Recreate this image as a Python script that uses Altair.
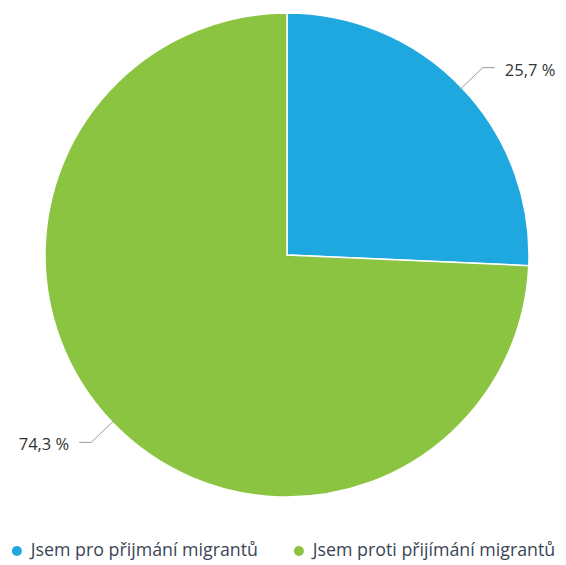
import altair as alt
import pandas as pd

categories = ["Jsem pro přijmání migrantů", "Jsem proti přijímání migrantů"]
values = [25.7, 74.3]
labels = ["25,7 %", "74,3 %"]
colors = ["#1fa8e0", "#8bc441"]

df = pd.DataFrame({"cat": categories, "value": values, "label": labels, "idx": [0, 1]})

CX, CY, R = 279, 247, 242

base = alt.Chart(df)

pie = base.mark_arc(outerRadius=R, stroke="white", strokeWidth=1.5).encode(
    theta=alt.Theta("value:Q", stack=True),
    color=alt.Color(
        "cat:N",
        scale=alt.Scale(domain=categories, range=colors),
        sort=categories,
        legend=alt.Legend(
            title=None,
            orient="none",
            legendX=0,
            legendY=534,
            direction="horizontal",
            symbolType="circle",
            symbolSize=100,
            symbolStrokeWidth=0,
            labelOffset=5,
            labelFont="Open Sans",
            labelFontSize=17.8,
            labelColor="#3a4556",
            labelLimit=400,
            columnPadding=32,
        ),
    ),
    order=alt.Order("idx:Q"),
    x=alt.value(CX),
    y=alt.value(CY),
)

geo = base.transform_joinaggregate(total="sum(value)").transform_window(
    cum="sum(value)", sort=[alt.SortField("idx")]
).transform_calculate(
    a="(datum.cum - datum.value/2)/datum.total*2*PI",
).transform_calculate(
    side="sin(datum.a) >= 0 ? 1 : -1",
    x0=f"{CX} + {R - 3}*sin(datum.a)",
    y0=f"{CY} - {R - 3}*cos(datum.a)",
    x1=f"{CX} + {R + 29}*sin(datum.a)",
    y1=f"{CY} - {R + 29}*cos(datum.a)",
).transform_calculate(
    x2="datum.x1 + 12*datum.side",
    xt="datum.x1 + 22*datum.side",
)

conn = geo.transform_fold(["x0", "x1", "x2"], as_=["k", "px"]).transform_calculate(
    py="datum.k == 'x0' ? datum.y0 : datum.y1"
).mark_line(color="#999999", strokeWidth=1).encode(
    x=alt.X("px:Q", scale=None),
    y=alt.Y("py:Q", scale=None),
    detail="cat:N",
    order=alt.Order("k:N"),
)

txt_r = geo.transform_filter("datum.side > 0").mark_text(
    align="left", baseline="middle", font="Open Sans", fontSize=16.5, color="#333333", dy=3
).encode(x=alt.X("xt:Q", scale=None), y=alt.Y("y1:Q", scale=None), text="label:N")
txt_l = geo.transform_filter("datum.side < 0").mark_text(
    align="right", baseline="middle", font="Open Sans", fontSize=16.5, color="#333333", dy=3
).encode(x=alt.X("xt:Q", scale=None), y=alt.Y("y1:Q", scale=None), text="label:N")

chart = alt.layer(pie, conn, txt_r, txt_l).properties(
    width=550, height=557, padding=0, autosize="none"
).configure(
    background="white",
    view=alt.ViewConfig(strokeWidth=0, stroke=None),
)

chart.save("out.html", embed_options={"renderer": "svg", "actions": False})
